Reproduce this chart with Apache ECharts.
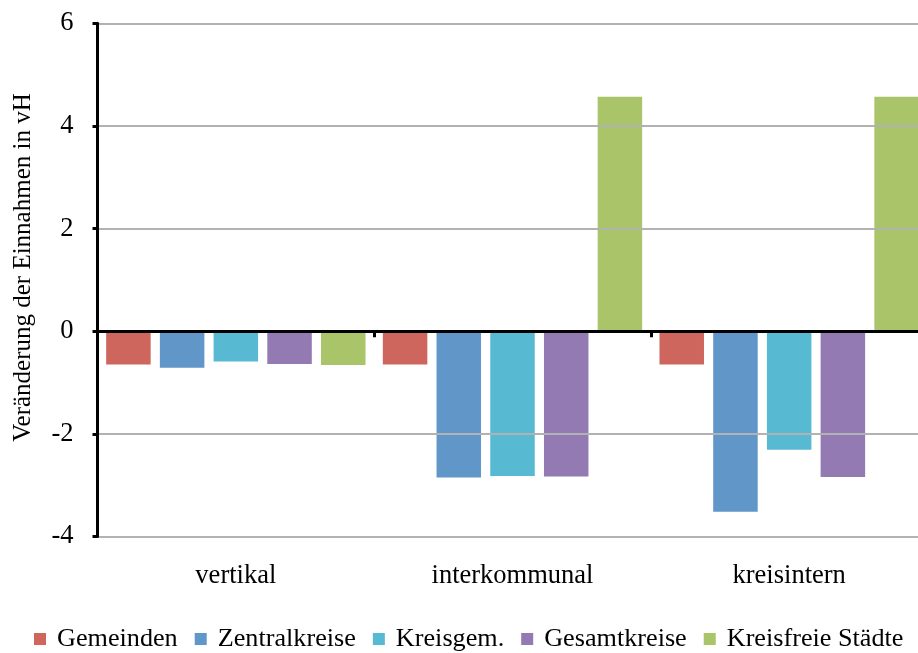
<!DOCTYPE html>
<html>
<head>
<meta charset="utf-8">
<script src="https://cdn.jsdelivr.net/npm/echarts@6/dist/echarts.min.js"></script>
<style>
html,body{margin:0;padding:0;background:#fff;overflow:hidden;width:918px;height:653px;}
#chart{width:928px;height:653px;}
</style>
</head>
<body>
<div id="chart"></div>
<script>
var categories = ['vertikal', 'interkommunal', 'kreisintern'];
var seriesNames = ['Gemeinden', 'Zentralkreise', 'Kreisgem.', 'Gesamtkreise', 'Kreisfreie Städte'];
var gemeinden = [-0.65, -0.65, -0.65];
var zentralkreise = [-0.71, -2.85, -3.52];
var kreisgem = [-0.59, -2.82, -2.31];
var gesamtkreise = [-0.64, -2.83, -2.84];
var kreisfreieStaedte = [-0.66, 4.57, 4.57];
var yTicks = { min: -4, max: 6, interval: 2 };
var yTitle = 'Veränderung der Einnahmen in vH';

var colors = ['#CE665E', '#6096C8', '#58B9D2', '#937AB3', '#AAC46A'];
var values = [gemeinden, zentralkreise, kreisgem, gesamtkreise, kreisfreieStaedte];
var FONT = '"Liberation Serif", "Times New Roman", serif';

var chart = echarts.init(document.getElementById('chart'), null, { renderer: 'canvas' });
var series = seriesNames.map(function (n, i) {
  return {
    name: n,
    type: 'bar',
    xAxisIndex: 0,
    yAxisIndex: 0,
    data: values[i],
    barWidth: 44.5,
    barGap: '20.7%',
    itemStyle: { color: colors[i] },
    emphasis: { disabled: true }
  };
});

chart.setOption({
  animation: false,
  color: colors,
  grid: { left: 97.5, top: 23.3, right: 0.5, bottom: 116.5, containLabel: false },
  xAxis: [
    {
      type: 'category',
      data: categories,
      position: 'bottom',
      boundaryGap: true,
      axisLine: { show: false, onZero: false },
      axisTick: { show: false },
      splitLine: { show: false },
      axisLabel: { margin: 26, color: '#000', fontFamily: FONT, fontSize: 26.5 }
    },
    {
      type: 'category',
      data: categories,
      position: 'bottom',
      boundaryGap: true,
      z: 5,
      axisLine: { show: true, onZero: true, lineStyle: { color: '#000', width: 3 } },
      axisTick: { show: true, length: 6, lineStyle: { color: '#000', width: 3 } },
      axisLabel: { show: false },
      splitLine: { show: false }
    }
  ],
  yAxis: {
    type: 'value',
    min: yTicks.min,
    max: yTicks.max,
    interval: yTicks.interval,
    z: 5,
    axisLine: { show: true, lineStyle: { color: '#000', width: 3 } },
    axisTick: { show: true, length: 5, lineStyle: { color: '#000', width: 3 } },
    axisLabel: { margin: 24, color: '#000', fontFamily: FONT, fontSize: 26.5 },
    splitLine: { show: true, lineStyle: { color: '#b2b2b2', width: 2 } }
  },
  legend: {
    data: seriesNames,
    left: 34,
    top: 626,
    padding: 0,
    itemWidth: 12,
    itemHeight: 12,
    itemGap: 17,
    icon: 'rect',
    selectedMode: false,
    textStyle: { color: '#000', fontFamily: FONT, fontSize: 26.2, padding: [0, 0, 0, 6] }
  },
  graphic: [{
    type: 'text',
    x: 23,
    y: 267.5,
    rotation: Math.PI / 2,
    style: {
      text: yTitle,
      font: '25px "Liberation Serif", serif',
      fill: '#000',
      textAlign: 'center',
      textVerticalAlign: 'middle'
    }
  }],
  series: series
});
</script>
</body>
</html>
